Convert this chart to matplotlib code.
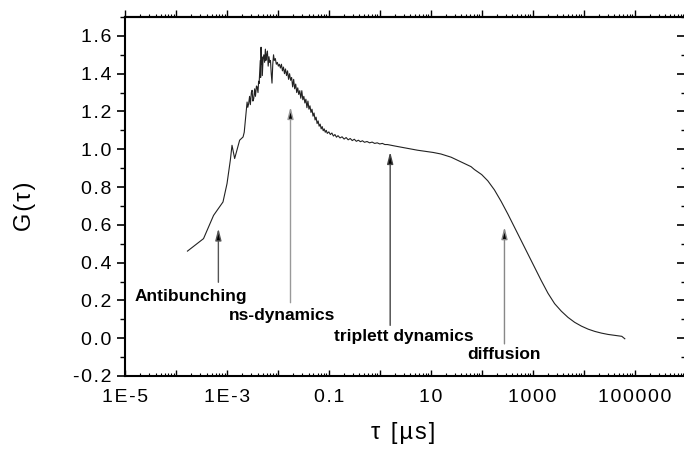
import matplotlib
matplotlib.use('Agg')
import matplotlib.pyplot as plt
import numpy as np
from matplotlib.ticker import FixedLocator, FuncFormatter, MultipleLocator, NullFormatter

plt.rcParams['font.family'] = ['Liberation Sans', 'DejaVu Sans']

# --- correlation curve: log10(tau / us) and G(tau)
log_tau = [-3.774, -3.459, -3.262, -3.077, -2.998, -2.933, -2.900, -2.848,
           -2.750, -2.683, -2.660, -2.638, -2.620, -2.604, -2.590, -2.573,
           -2.555, -2.540, -2.520, -2.506, -2.490, -2.474, -2.455, -2.440,
           -2.420, -2.407, -2.390, -2.378, -2.368, -2.355, -2.345, -2.338,
           -2.330, -2.322, -2.315, -2.305, -2.290, -2.275, -2.260, -2.245,
           -2.235, -2.220, -2.205, -2.190, -2.175, -2.160, -2.145, -2.130,
           -2.115, -2.100, -2.085, -2.070, -2.050, -2.030, -2.010, -1.990,
           -1.970, -1.950, -1.930, -1.910, -1.890, -1.870, -1.850, -1.830,
           -1.810, -1.790, -1.770, -1.750, -1.730, -1.710, -1.690, -1.670,
           -1.650, -1.630, -1.610, -1.590, -1.570, -1.550, -1.530, -1.510,
           -1.490, -1.470, -1.450, -1.430, -1.410, -1.390, -1.370, -1.350,
           -1.330, -1.310, -1.290, -1.270, -1.250, -1.230, -1.210, -1.190,
           -1.170, -1.150, -1.130, -1.110, -1.090, -1.070, -1.050, -1.030,
           -1.000, -0.970, -0.940, -0.910, -0.880, -0.850, -0.820, -0.780,
           -0.740, -0.700, -0.660, -0.620, -0.580, -0.540, -0.500, -0.460,
           -0.420, -0.380, -0.340, -0.300, -0.250, -0.200, -0.150, -0.100,
           -0.050, 0.000, 0.050, 0.100, 0.150, 0.220, 0.300, 0.400,
           0.500, 0.600, 0.740, 0.900, 1.050, 1.200, 1.400, 1.594,
           1.791, 1.856, 2.000, 2.120, 2.250, 2.382, 2.514, 2.644,
           2.776, 2.907, 3.037, 3.169, 3.301, 3.431, 3.563, 3.695,
           3.825, 3.957, 4.089, 4.220, 4.350, 4.480, 4.612, 4.750,
           4.809]
g_tau = [0.461, 0.527, 0.650, 0.721, 0.818, 0.942, 1.021, 0.951,
         1.048, 1.065, 1.090, 1.153, 1.200, 1.250, 1.222, 1.242,
         1.280, 1.236, 1.300, 1.312, 1.255, 1.268, 1.320, 1.280,
         1.335, 1.330, 1.300, 1.360, 1.348, 1.420, 1.470, 1.380,
         1.540, 1.450, 1.490, 1.390, 1.480, 1.500, 1.460, 1.530,
         1.470, 1.500, 1.520, 1.440, 1.490, 1.460, 1.470, 1.400,
         1.350, 1.450, 1.500, 1.470, 1.480, 1.450, 1.460, 1.440,
         1.450, 1.430, 1.450, 1.415, 1.435, 1.400, 1.425, 1.390,
         1.415, 1.370, 1.400, 1.365, 1.380, 1.330, 1.370, 1.320,
         1.345, 1.300, 1.325, 1.290, 1.310, 1.270, 1.310, 1.262,
         1.280, 1.245, 1.265, 1.220, 1.255, 1.212, 1.230, 1.195,
         1.212, 1.175, 1.192, 1.155, 1.170, 1.136, 1.150, 1.122,
         1.133, 1.108, 1.120, 1.098, 1.108, 1.090, 1.100, 1.084,
         1.092, 1.078, 1.086, 1.070, 1.078, 1.064, 1.072, 1.060,
         1.066, 1.054, 1.062, 1.050, 1.057, 1.046, 1.053, 1.042,
         1.048, 1.040, 1.045, 1.037, 1.041, 1.034, 1.038, 1.031,
         1.034, 1.028, 1.031, 1.025, 1.025, 1.021, 1.017, 1.012,
         1.007, 1.002, 0.995, 0.989, 0.983, 0.975, 0.958, 0.933,
         0.908, 0.893, 0.866, 0.833, 0.785, 0.724, 0.657, 0.587,
         0.516, 0.446, 0.376, 0.305, 0.238, 0.183, 0.143, 0.110,
         0.084, 0.064, 0.048, 0.036, 0.027, 0.020, 0.015, 0.010,
         -0.003]

# --- x ticks: one every decade, labelled every second decade
x_tick_exp = list(range(-5, 7))
x_tick_labels = {-5: '1E-5', -3: '1E-3', -1: '0.1', 1: '10', 3: '1000', 5: '100000'}
y_ticks = [-0.2, 0.0, 0.2, 0.4, 0.6, 0.8, 1.0, 1.2, 1.4, 1.6]

# --- annotation arrows
arrow_labels = ['Antibunching', 'ns-dynamics', 'triplett dynamics', 'diffusion']
arrow_tau = [6.8e-4, 0.0177, 1.60, 280.0]
arrow_tip = [0.581, 1.224, 0.986, 0.588]
arrow_tail = [0.296, 0.188, 0.068, -0.03]
label_tau = [1.95e-4, 0.0123, 3.01, 279.0]
label_g = [0.196, 0.094, -0.016, -0.112]
arrow_colors = ['#555555', '#999999', '#444444', '#888888']

HS = '\u200a'


def spaced(s):
    return HS.join(s)


fig = plt.figure(figsize=(6.84, 4.55), dpi=100)
ax = fig.add_axes([125 / 684, 79 / 455, 560.5 / 684, 359 / 455])

tau = 10.0 ** np.array(log_tau)
ax.plot(tau, g_tau, color='#222222', lw=0.8)

for i, lab in enumerate(arrow_labels):
    ax.annotate('', xy=(arrow_tau[i], arrow_tip[i]), xytext=(arrow_tau[i], arrow_tail[i]),
                arrowprops=dict(arrowstyle='-|>,head_length=0.7,head_width=0.18',
                                fc='black', ec=arrow_colors[i], lw=1.0,
                                shrinkA=0, shrinkB=0))
    ax.text(label_tau[i], label_g[i], lab, ha='center', va='baseline',
            fontsize=12.5, fontweight='bold')

ax.set_xscale('log')
ax.set_xlim(1e-5, 1e6)
ax.set_ylim(-0.2, 1.7)

major_x = [10.0 ** e for e in x_tick_exp]
minor_x = [m * 10.0 ** e for e in x_tick_exp[:-1] for m in range(2, 10)]
ax.xaxis.set_major_locator(FixedLocator(major_x))
ax.xaxis.set_minor_locator(FixedLocator(minor_x))


def xfmt(v, pos):
    e = int(round(np.log10(v)))
    return spaced(x_tick_labels[e]) if e in x_tick_labels else ''


ax.xaxis.set_major_formatter(FuncFormatter(xfmt))
ax.xaxis.set_minor_formatter(NullFormatter())
ax.yaxis.set_major_locator(FixedLocator(y_ticks))
ax.yaxis.set_minor_locator(MultipleLocator(0.1))
ax.yaxis.set_major_formatter(FuncFormatter(lambda v, pos: spaced('%.1f' % v)))

ax.tick_params(axis='x', which='both', direction='in', top=False, labelsize=14, pad=9)
ax.tick_params(axis='x', which='major', length=4, width=1)
ax.tick_params(axis='x', which='minor', length=2.2, width=0.8)
ax.tick_params(axis='y', which='both', direction='out', right=False, labelsize=14, pad=3.5)
ax.tick_params(axis='y', which='major', length=6, width=1.2)
ax.tick_params(axis='y', which='minor', length=3.3, width=1)

top = ax.secondary_xaxis('top')
top.xaxis.set_major_locator(FixedLocator(major_x))
top.xaxis.set_minor_locator(FixedLocator(minor_x))
top.tick_params(which='both', direction='out', labeltop=False)
top.tick_params(which='major', length=5, width=1)
top.tick_params(which='minor', length=2.5, width=0.8)

right = ax.secondary_yaxis('right')
right.yaxis.set_major_locator(FixedLocator(y_ticks))
right.yaxis.set_minor_locator(MultipleLocator(0.1))
right.tick_params(which='both', direction='in', labelright=False)
right.tick_params(which='major', length=6.5, width=1.2)
right.tick_params(which='minor', length=3.6, width=1)

for s in ax.spines.values():
    s.set_linewidth(1.5)
top.spines['top'].set_linewidth(1.5)
right.spines['right'].set_linewidth(1.5)

ax.set_ylabel(spaced('G(τ)'), fontsize=17)
ax.yaxis.set_label_coords(-0.158, 0.474)
ax.set_xlabel(spaced('τ [µs]'), fontsize=17)
ax.xaxis.set_label_coords(0.496, -0.128)

fig.savefig('out.png', dpi=100, facecolor='white')
